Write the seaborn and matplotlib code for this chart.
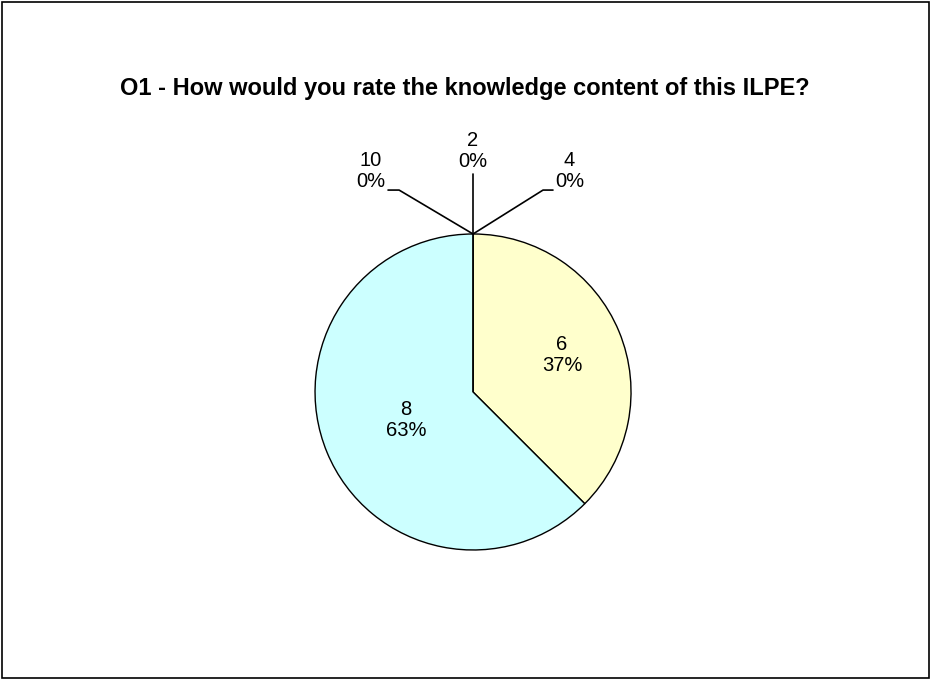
import seaborn as sns
import matplotlib.pyplot as plt
from matplotlib.patches import Rectangle
import numpy as np

# survey answers (scores), how many picked each, and the % shown on the chart
scores = ["2", "4", "6", "8", "10"]
counts = [0, 0, 3, 5, 0]
pct_labels = [0, 0, 37, 63, 0]
slice_colors = ["#9999FF", "#993366", "#FFFFCC", "#CCFFFF", "#660066"]

sns.set_theme(style="white")
plt.rcParams['font.family'] = ['Liberation Sans', 'DejaVu Sans']
plt.rcParams['text.color'] = 'black'

fig = plt.figure(figsize=(9.32, 6.8), dpi=100)
ax = fig.add_axes([0.2363, 0.0518, 0.5425, 0.7435])

wedges, _ = ax.pie(counts, colors=slice_colors, startangle=90, counterclock=False,
                   radius=1, wedgeprops=dict(edgecolor="black", linewidth=1))
ax.set_xlim(-1.6, 1.6)
ax.set_ylim(-1.6, 1.6)
ax.set_aspect("equal")
ax.axis("off")

FS = 14.5
LS = 1.12

# labels inside the non-empty slices (excel puts them at uneven radii)
inside_r = {"6": 0.61, "8": 0.46}
# leader-line labels for the empty slices: (elbow x, elbow y, end x, text x, text y, ha)
leaders = {
    "2": None,
    "4": (0.443, 1.278, 0.506, 0.519, 1.40, "left"),
    "10": (-0.468, 1.278, -0.538, -0.557, 1.40, "right"),
}

for w, s, p in zip(wedges, scores, pct_labels):
    txt = f"{s}\n{p}%"
    if s in inside_r:
        mid = np.deg2rad((w.theta1 + w.theta2) / 2)
        r = inside_r[s]
        ax.text(r * np.cos(mid), r * np.sin(mid), txt, ha="center", va="center",
                fontsize=FS, linespacing=LS)
    else:
        ang = np.deg2rad(w.theta1)
        x0, y0 = np.cos(ang), np.sin(ang)
        if leaders[s] is None:
            ax.plot([x0, x0], [y0, 1.38], color="black", lw=1.2, clip_on=False)
            ax.text(x0, 1.525, txt, ha="center", va="center", fontsize=FS, linespacing=LS)
        else:
            ex, ey, hx, tx, ty, ha = leaders[s]
            ax.plot([x0, ex, hx], [y0, ey, ey], color="black", lw=1.2, clip_on=False)
            ax.text(tx, ty, txt, ha=ha, va="center", fontsize=FS, linespacing=LS,
                    multialignment="center")

fig.text(0.499, 1 - 89 / 680, "O1 - How would you rate the knowledge content of this ILPE?",
         ha="center", va="center", fontsize=17, fontweight="bold")

fig.patches.append(Rectangle((0.002, 0.003), 0.995, 0.994, transform=fig.transFigure,
                             fill=False, edgecolor="black", linewidth=1.2))

fig.savefig("out.png", dpi=100, facecolor="white")
